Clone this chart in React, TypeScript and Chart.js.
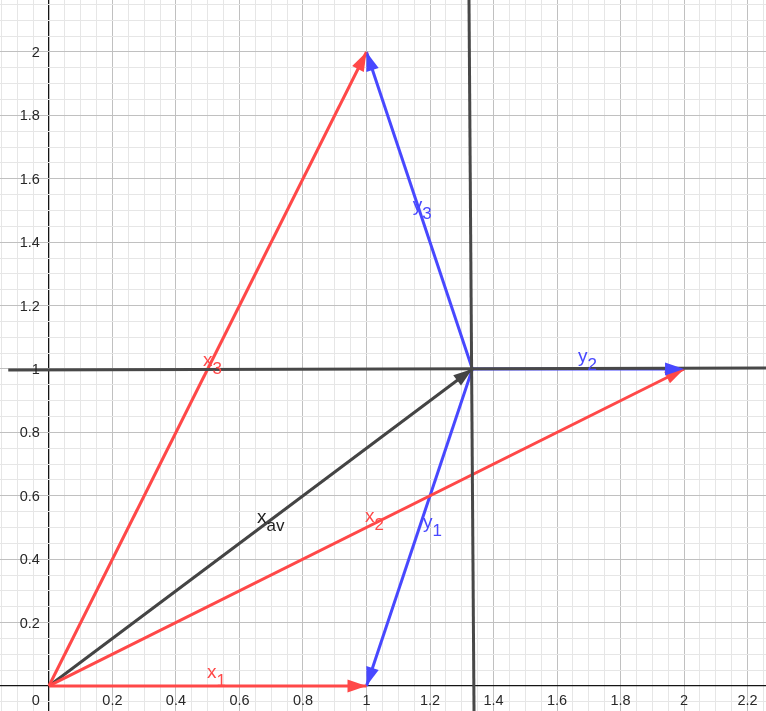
import React, { useEffect, useRef } from "react";
import { Chart, registerables } from "chart.js";

Chart.register(...registerables);

// ---- Data ----
const vectorNames = ["x1", "x2", "x3", "xav", "y1", "y2", "y3"];
const vectorStartX = [0, 0, 0, 0, 4 / 3, 4 / 3, 4 / 3];
const vectorStartY = [0, 0, 0, 0, 1, 1, 1];
const vectorEndX = [1, 2, 1, 4 / 3, 1, 2, 1];
const vectorEndY = [0, 1, 2, 1, 0, 1, 2];
const vectorKind = ["red", "red", "red", "dark", "blue", "blue", "blue"];

const labelMain = ["x", "x", "x", "x", "y", "y", "y"];
const labelSub = ["1", "2", "3", "av", "1", "2", "3"];
const labelX = [0.498, 0.995, 0.485, 0.655, 1.178, 1.666, 1.146];
const labelY = [0.025, 0.517, 1.009, 0.514, 0.498, 1.022, 1.498];

// guide lines through x_av (slightly tilted "vertical" one)
const guideVerticalX = [1.3228, 1.3386];
const guideVerticalY = [2.164, -0.079];
const guideHorizontalX = [-0.128, 2.3];
const guideHorizontalY = [0.997, 1.003];

const xTickValues = [0.2, 0.4, 0.6, 0.8, 1, 1.2, 1.4, 1.6, 1.8, 2, 2.2];
const xTickLabels = ["0.2", "0.4", "0.6", "0.8", "1", "1.2", "1.4", "1.6", "1.8", "2", "2.2"];
const yTickValues = [0.2, 0.4, 0.6, 0.8, 1, 1.2, 1.4, 1.6, 1.8, 2];
const yTickLabels = ["0.2", "0.4", "0.6", "0.8", "1", "1.2", "1.4", "1.6", "1.8", "2"];

const X_MIN = -0.154;
const X_MAX = 2.258;
const Y_MIN = -0.079;
const Y_MAX = 2.164;

const COLORS: Record<string, string> = {
  red: "rgb(255, 72, 72)",
  blue: "rgb(72, 72, 255)",
  dark: "rgb(68, 68, 68)",
};
const GUIDE_COLOR = "rgb(72, 72, 72)";
const FONT = '"Liberation Sans", Arial, sans-serif';

function gridValues(min: number, max: number) {
  const out: { value: number }[] = [];
  const start = Math.ceil(min * 20);
  const end = Math.floor(max * 20);
  for (let i = start; i <= end; i++) out.push({ value: Math.round(i * 5) / 100 });
  return out;
}

function isMajor(v: number) {
  return Math.abs(Math.round(v * 100)) % 20 === 0;
}

const arrowPlugin = {
  id: "arrowheads",
  afterDatasetsDraw(chart: any) {
    const { ctx } = chart;
    const xs = chart.scales.x;
    const ys = chart.scales.y;
    ctx.save();
    vectorNames.forEach((_, i) => {
      const x0 = xs.getPixelForValue(vectorStartX[i]);
      const y0 = ys.getPixelForValue(vectorStartY[i]);
      const x1 = xs.getPixelForValue(vectorEndX[i]);
      const y1 = ys.getPixelForValue(vectorEndY[i]);
      const ang = Math.atan2(y1 - y0, x1 - x0);
      const len = 19;
      const half = 6.5;
      const bx = x1 - len * Math.cos(ang);
      const by = y1 - len * Math.sin(ang);
      ctx.beginPath();
      ctx.moveTo(x1, y1);
      ctx.lineTo(bx + half * Math.sin(ang), by - half * Math.cos(ang));
      ctx.lineTo(bx - half * Math.sin(ang), by + half * Math.cos(ang));
      ctx.closePath();
      ctx.fillStyle = COLORS[vectorKind[i]];
      ctx.fill();
    });
    // vector labels
    vectorNames.forEach((_, i) => {
      const px = xs.getPixelForValue(labelX[i]);
      const py = ys.getPixelForValue(labelY[i]);
      ctx.fillStyle = vectorKind[i] === "dark" ? "rgb(30,30,30)" : COLORS[vectorKind[i]];
      ctx.textAlign = "left";
      ctx.textBaseline = "alphabetic";
      ctx.font = `19px ${FONT}`;
      ctx.fillText(labelMain[i], px, py);
      const w = ctx.measureText(labelMain[i]).width;
      ctx.font = `17px ${FONT}`;
      ctx.fillText(labelSub[i], px + w, py + 8);
    });
    ctx.restore();
  },
};

const axisLabelPlugin = {
  id: "axisLabels",
  afterDraw(chart: any) {
    const { ctx } = chart;
    const xs = chart.scales.x;
    const ys = chart.scales.y;
    const ox = xs.getPixelForValue(0);
    const oy = ys.getPixelForValue(0);
    ctx.save();
    ctx.font = `14.5px ${FONT}`;
    ctx.fillStyle = "rgb(40,40,40)";
    ctx.textBaseline = "alphabetic";
    ctx.textAlign = "center";
    xTickValues.forEach((v, i) => {
      ctx.fillText(xTickLabels[i], xs.getPixelForValue(v), oy + 19);
    });
    ctx.textAlign = "right";
    ctx.fillText("0", ox - 9, oy + 19);
    ctx.textBaseline = "middle";
    yTickValues.forEach((v, i) => {
      ctx.fillText(yTickLabels[i], ox - 9, ys.getPixelForValue(v) + 1);
    });
    ctx.restore();
  },
};

export default function App() {
  const ref = useRef<HTMLCanvasElement | null>(null);
  useEffect(() => {
    if (!ref.current) return;
    const datasets: any[] = [
      {
        data: guideVerticalX.map((x, i) => ({ x, y: guideVerticalY[i] })),
        borderColor: GUIDE_COLOR,
        borderWidth: 3,
      },
      {
        data: guideHorizontalX.map((x, i) => ({ x, y: guideHorizontalY[i] })),
        borderColor: GUIDE_COLOR,
        borderWidth: 3,
      },
    ];
    vectorNames.forEach((_, i) => {
      datasets.push({
        data: [
          { x: vectorStartX[i], y: vectorStartY[i] },
          { x: vectorEndX[i], y: vectorEndY[i] },
        ],
        borderColor: COLORS[vectorKind[i]],
        borderWidth: 3,
      });
    });
    datasets.forEach((d) => {
      d.showLine = true;
      d.pointRadius = 0;
      d.pointHoverRadius = 0;
      d.fill = false;
    });
    const gridColor = (c: any) =>
      c.tick.value === 0 ? "rgb(20,20,20)" : isMajor(c.tick.value) ? "rgb(192,192,192)" : "rgb(230,230,230)";
    const gridWidth = (c: any) => (c.tick.value === 0 ? 1.3 : 1);
    const chart = new Chart(ref.current, {
      type: "scatter",
      data: { datasets },
      plugins: [arrowPlugin, axisLabelPlugin],
      options: {
        animation: false,
        responsive: true,
        maintainAspectRatio: false,
        layout: { padding: 0 },
        plugins: { legend: { display: false }, tooltip: { enabled: false } },
        events: [],
        scales: {
          x: {
            type: "linear",
            min: X_MIN,
            max: X_MAX,
            afterBuildTicks: (s: any) => {
              s.ticks = gridValues(X_MIN, X_MAX);
            },
            ticks: { display: false },
            border: { display: false },
            grid: { drawTicks: false, color: gridColor, lineWidth: gridWidth },
          },
          y: {
            type: "linear",
            min: Y_MIN,
            max: Y_MAX,
            afterBuildTicks: (s: any) => {
              s.ticks = gridValues(Y_MIN, Y_MAX);
            },
            ticks: { display: false },
            border: { display: false },
            grid: { drawTicks: false, color: gridColor, lineWidth: gridWidth },
          },
        },
      } as any,
    });
    return () => chart.destroy();
  }, []);
  return (
    <div style={{ position: "fixed", left: 0, top: 0, width: 766, height: 711, background: "#fff" }}>
      <canvas ref={ref} />
    </div>
  );
}
